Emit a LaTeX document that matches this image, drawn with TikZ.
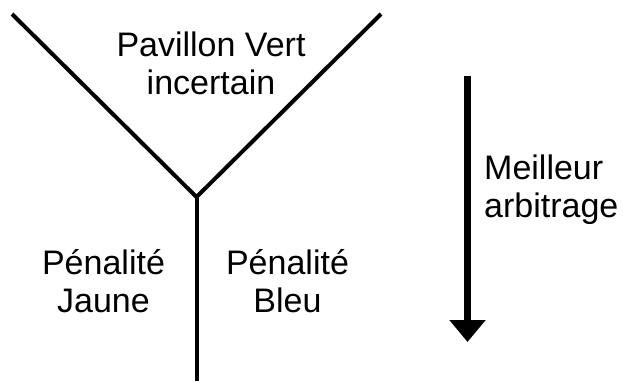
\documentclass[tikz,border=0pt]{standalone}
\usepackage{fontspec}
\setmainfont{Liberation Sans}
\usetikzlibrary{arrows.meta}
\begin{document}
\begin{tikzpicture}[x=1pt,y=-1pt,
  branch/.style={line width=4pt,line cap=butt,line join=miter},
  lbl/.style={inner sep=0pt,font=\fontsize{34}{38}\selectfont,align=center,anchor=base},
  lbll/.style={inner sep=0pt,font=\fontsize{34}{38}\selectfont,align=left,anchor=base west}]
\useasboundingbox (0,0) rectangle (623,381);
\coordinate (tl) at (12,14);
\coordinate (tr) at (381,14);
\coordinate (j) at (196.5,197);
\coordinate (b) at (196.5,381);
\draw[branch] (tl) -- (j) -- (tr);
\draw[branch] (j) -- (b);
\node[lbl] (top) at (211,94) {Pavillon Vert\\incertain};
\node[lbl] (jaune) at (103.5,312) {Pénalité\\Jaune};
\node[lbl] (bleu) at (287.5,312) {Pénalité\\Bleu};
\coordinate (as) at (467.5,76);
\coordinate (ae) at (467.5,342);
\draw[line width=7pt,-{Triangle[width=35pt,length=22pt]}] (as) -- (ae);
\node[lbll] (arb) at (484,217) {Meilleur\\arbitrage};
\end{tikzpicture}
\end{document}
